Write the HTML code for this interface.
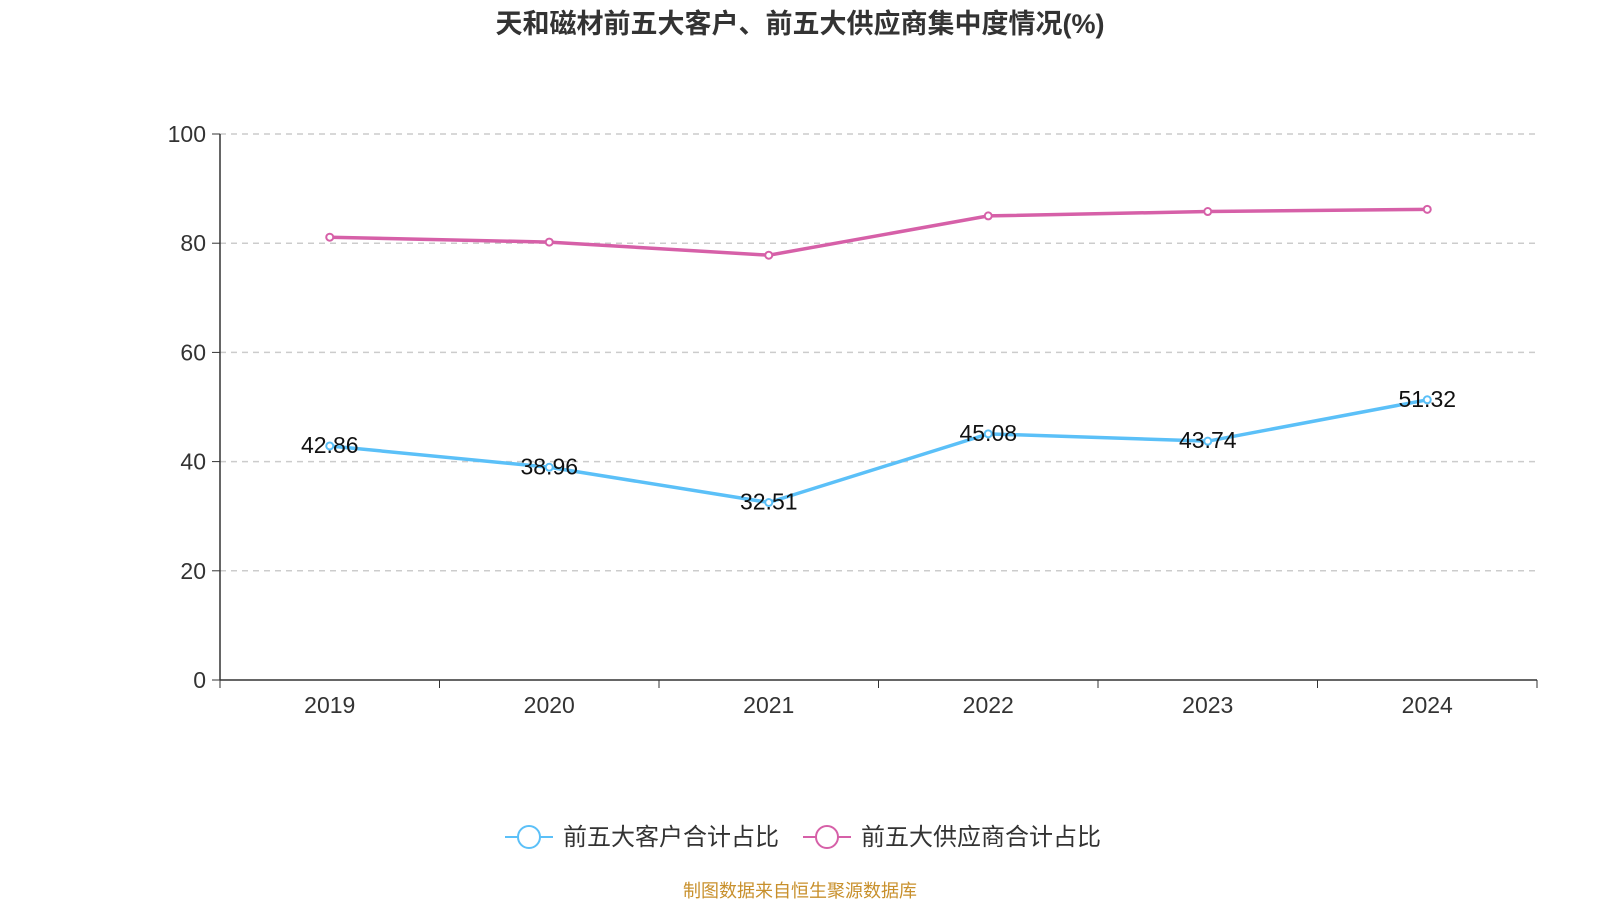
<!DOCTYPE html>
<html><head><meta charset="utf-8"><style>
body{margin:0;background:#fff;width:1600px;height:900px;overflow:hidden;font-family:"Liberation Sans","Noto Sans CJK SC",sans-serif}
</style></head><body>
<svg width="1600" height="900" xmlns="http://www.w3.org/2000/svg">
<text x="800" y="33" text-anchor="middle" font-size="27" font-weight="bold" fill="#333" font-family="Liberation Sans,Noto Sans CJK SC,sans-serif">天和磁材前五大客户、前五大供应商集中度情况(%)</text>
<g id="grid"></g><g id="axes"></g><g id="series"></g>
<g font-family="Liberation Sans,Noto Sans CJK SC,sans-serif" font-size="24" fill="#333">
<g><line x1="505" y1="837" x2="553" y2="837" stroke="#5bc0f8" stroke-width="2"/><circle cx="529" cy="837" r="11" fill="#fff" stroke="#5bc0f8" stroke-width="2"/><text x="563" y="845">前五大客户合计占比</text></g>
<g><line x1="803" y1="837" x2="851" y2="837" stroke="#d660a8" stroke-width="2"/><circle cx="827" cy="837" r="11" fill="#fff" stroke="#d660a8" stroke-width="2"/><text x="861" y="845">前五大供应商合计占比</text></g>
</g>
<text x="800" y="897" text-anchor="middle" font-size="18" fill="#c8902c" font-family="Liberation Sans,Noto Sans CJK SC,sans-serif">制图数据来自恒生聚源数据库</text>
</svg>
<script>
const categories=["2019","2020","2021","2022","2023","2024"];
const customers=[42.86,38.96,32.51,45.08,43.74,51.32];
const suppliers=[81.1,80.2,77.8,85.0,85.8,86.2];
const yTicks=[0,20,40,60,80,100];
const NS="http://www.w3.org/2000/svg";
const L=220,R=1537,T=134,B=680;
const y=v=>B-(v/100)*(B-T);
const bw=(R-L)/categories.length;
const x=i=>L+bw*(i+0.5);
function mk(p,tag,a){const e=document.createElementNS(NS,tag);for(const k in a)e.setAttribute(k,a[k]);p.appendChild(e);return e;}
const grid=document.getElementById('grid'),axes=document.getElementById('axes'),ser=document.getElementById('series');
yTicks.forEach(t=>{
 if(t>0){const g=mk(grid,'line',{x1:L,x2:R,y1:y(t),y2:y(t),stroke:'#ccc','stroke-dasharray':'6,5','stroke-width':1.5});
 
 }
 const tk=mk(axes,'line',{x1:L-8,x2:L,y1:y(t),y2:y(t),stroke:'#333'});
 
 
 const tx=mk(axes,'text',{x:L-14,y:y(t)+8,'text-anchor':'end','font-size':23,fill:'#333','font-family':'Liberation Sans,sans-serif'});
 tx.textContent=t;
 
 
});
const ya=mk(axes,'line',{x1:L,x2:L,y1:T,y2:B,stroke:'#333','stroke-width':1.5});


const xa=mk(axes,'line',{x1:L,x2:R,y1:B,y2:B,stroke:'#333','stroke-width':1.5});


for(let i=0;i<=categories.length;i++){const t=mk(axes,'line',{x1:L+bw*i,x2:L+bw*i,y1:B,y2:B+8,stroke:'#333'});
 
 }
categories.forEach((c,i)=>{const t=mk(axes,'text',{x:x(i),y:B+33,'text-anchor':'middle','font-size':23,fill:'#333','font-family':'Liberation Sans,sans-serif'});
 t.textContent=c;
 
 });
function draw(vals,color,name,labels){
 const p=mk(ser,'polyline',{points:vals.map((v,i)=>x(i)+','+y(v)).join(' '),fill:'none',stroke:color,'stroke-width':3.5});
 
 
 vals.forEach((v,i)=>{const c=mk(ser,'circle',{cx:x(i),cy:y(v),r:3.5,fill:'#fff',stroke:color,'stroke-width':2});
  
  
  if(labels){const t=mk(ser,'text',{x:x(i),y:y(v)+7,'text-anchor':'middle','font-size':23,fill:'#111','font-family':'Liberation Sans,sans-serif'});
   t.textContent=v.toFixed(2);
   
   }
 });
}
draw(suppliers,'#d660a8','suppliers',false);
draw(customers,'#5bc0f8','customers',true);
</script>
</body></html>
